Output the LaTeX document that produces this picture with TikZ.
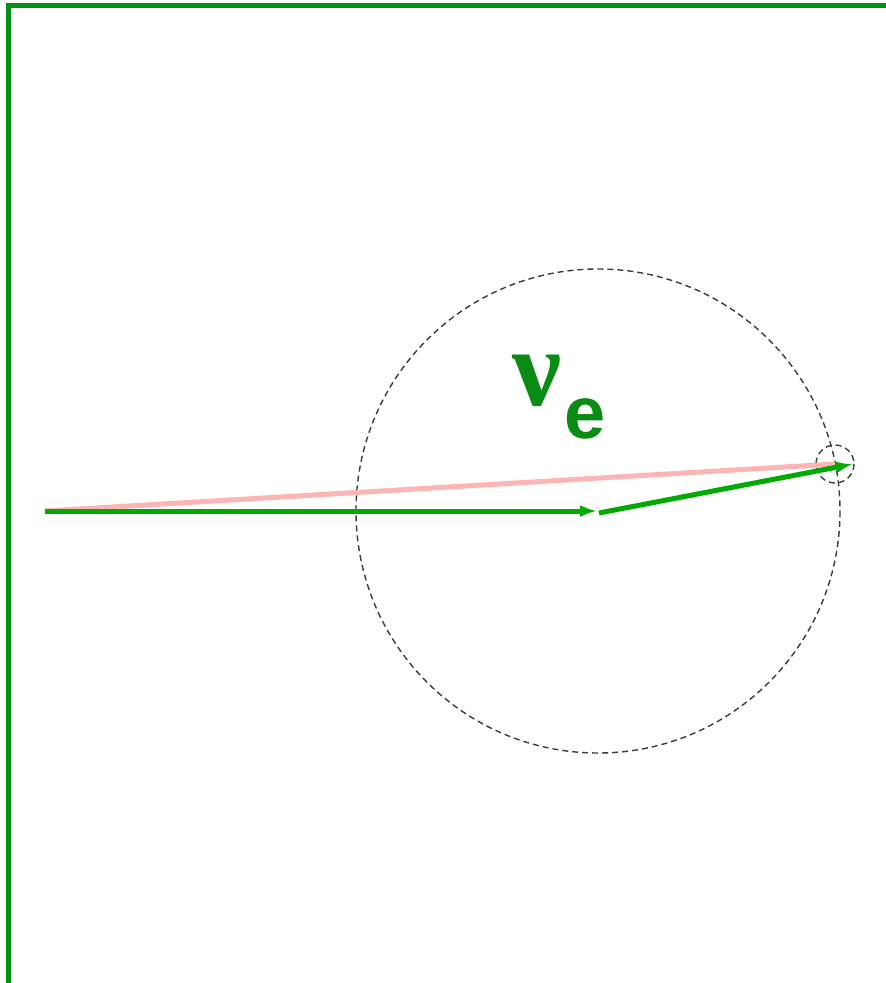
\documentclass[tikz,border=0pt]{standalone}
\usepackage{fontspec}
\usetikzlibrary{arrows.meta}
\newfontfamily\nufont{Liberation Serif}
\newfontfamily\efont{Liberation Sans}
\definecolor{frame}{RGB}{0,145,20}
\definecolor{arr}{RGB}{0,170,0}
\definecolor{lbl}{RGB}{10,140,20}
\definecolor{pinkline}{RGB}{255,180,180}
\definecolor{dashgray}{RGB}{60,60,60}
\tikzset{
  vec/.style={draw=arr, line width=5pt, -{Latex[length=17pt,width=12pt]}},
  guide/.style={draw=dashgray, line width=1.4pt, dash pattern=on 6pt off 4pt},
}
\begin{document}
\begin{tikzpicture}[x=1pt,y=-1pt]
\useasboundingbox (0,0) rectangle (886,983);
\fill[white] (0,0) rectangle (886,983);
% frame
\draw[frame, line width=5pt] (8,990) -- (8,5) -- (895,5);
% coordinates
\coordinate (O) at (45,511);
\coordinate (A) at (597,511);
\coordinate (A2) at (599,513);
\coordinate (B) at (853,464);
\coordinate (C) at (598,511);
\coordinate (S) at (835,464);
% circles
\draw[guide] (C) circle[radius=242];
\draw[guide] (S) circle[radius=19];
% pink resultant
\draw[pinkline, line width=5pt] (O) -- (S);
% vectors
\draw[vec] (O) -- (A);
\draw[vec] (A2) -- (B);
% label
\node[text=lbl, inner sep=0pt, anchor=base] (nu) at (537,405) {\nufont\bfseries\fontsize{110}{110}\selectfont ν};
\node[text=lbl, inner sep=0pt, anchor=base] (e) at (585,438) {\efont\bfseries\fontsize{74}{74}\selectfont e};
\end{tikzpicture}
\end{document}
